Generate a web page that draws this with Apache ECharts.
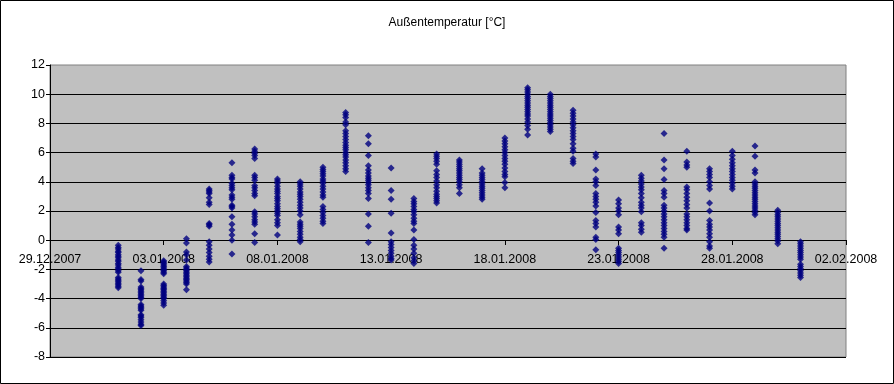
<!DOCTYPE html>
<html>
<head>
<meta charset="utf-8">
<script src="https://cdn.jsdelivr.net/npm/echarts@6/dist/echarts.min.js"></script>
<style>
html,body{margin:0;padding:0;background:#fff;}
#c{width:894px;height:384px;}
</style>
</head>
<body>
<div id="c"></div>
<script>
const titleText = 'Außentemperatur [°C]';
const xTickLabels = ['29.12.2007','03.01.2008','08.01.2008','13.01.2008','18.01.2008','23.01.2008','28.01.2008','02.02.2008'];
const yTicks = [-8,-6,-4,-2,0,2,4,6,8,10,12];
const days = ['01.01.2008','02.01.2008','03.01.2008','04.01.2008','05.01.2008','06.01.2008','07.01.2008','08.01.2008','09.01.2008','10.01.2008',
  '11.01.2008','12.01.2008','13.01.2008','14.01.2008','15.01.2008','16.01.2008','17.01.2008','18.01.2008','19.01.2008','20.01.2008',
  '21.01.2008','22.01.2008','23.01.2008','24.01.2008','25.01.2008','26.01.2008','27.01.2008','28.01.2008','29.01.2008','30.01.2008','31.01.2008'];
const temps = [
  [-0.35,-0.5,-0.6,-0.75,-0.85,-1.0,-1.1,-1.2,-1.35,-1.45,-1.6,-1.7,-1.85,-1.95,-2.1,-2.2,-2.55,-2.65,-2.75,-2.85,-2.95,-3.05,-3.15,-3.25],
  [-2.1,-2.7,-2.8,-3.2,-3.3,-3.4,-3.5,-3.6,-3.7,-3.8,-3.9,-4.0,-4.4,-4.5,-4.6,-4.7,-4.8,-5.1,-5.2,-5.3,-5.45,-5.6,-5.75,-5.85],
  [-1.4,-1.5,-1.6,-1.7,-1.8,-1.9,-2.0,-2.1,-2.2,-2.3,-3.0,-3.1,-3.2,-3.3,-3.4,-3.5,-3.6,-3.7,-3.8,-3.9,-4.0,-4.15,-4.3,-4.45],
  [0.1,-0.2,-0.8,-1.0,-1.35,-1.8,-1.9,-2.0,-2.1,-2.2,-2.3,-2.4,-2.5,-2.6,-2.7,-2.8,-2.9,-3.0,-3.4],
  [3.5,3.4,3.3,3.2,2.9,2.6,2.45,1.15,1.05,0.95,-0.1,-0.35,-0.6,-0.85,-1.1,-1.3,-1.5],
  [5.3,4.45,4.3,4.2,3.9,3.75,3.6,3.45,3.1,2.95,2.8,2.4,2.3,2.2,1.6,1.1,0.7,0.35,0.0,-0.95],
  [6.25,6.1,5.95,5.8,5.6,4.45,4.3,4.1,3.75,3.6,3.4,3.2,3.05,1.95,1.8,1.6,1.4,1.25,1.1,0.45,-0.15],
  [4.2,4.05,3.9,3.7,3.5,3.35,3.2,3.0,2.85,2.7,2.5,2.3,2.15,2.0,1.85,1.7,1.4,1.2,1.0,0.35],
  [4.0,3.85,3.7,3.5,3.3,3.15,3.0,2.8,2.6,2.4,2.2,2.0,1.75,1.25,1.1,0.95,0.8,0.6,0.4,0.2,0.05,-0.1],
  [5.0,4.85,4.7,4.55,4.4,4.2,4.05,3.9,3.7,3.5,3.3,3.1,2.95,2.3,2.1,1.9,1.7,1.5,1.3,1.15],
  [8.75,8.6,8.4,8.1,7.9,7.5,7.3,7.1,6.9,6.7,6.5,6.35,6.2,6.0,5.85,5.7,5.5,5.3,5.1,4.9,4.7],
  [7.15,6.6,5.8,5.1,4.8,4.6,4.4,4.25,4.1,3.95,3.8,3.6,3.4,3.2,2.85,1.8,0.95,-0.15],
  [4.95,3.4,2.8,1.85,0.5,-0.1,-0.3,-0.5,-0.7,-0.9,-1.1,-1.25,-1.35],
  [2.85,2.65,2.5,2.3,2.1,1.95,1.75,1.5,1.3,1.15,0.7,0.05,-0.35,-0.6,-0.9,-1.2,-1.4,-1.6],
  [5.9,5.75,5.6,5.4,5.2,4.75,4.5,4.3,4.05,3.8,3.6,3.35,3.15,3.0,2.85,2.7,2.55],
  [5.5,5.35,5.2,5.05,4.9,4.75,4.6,4.45,4.3,4.15,4.0,3.8,3.6,3.2],
  [4.9,4.6,4.45,4.3,4.15,4.0,3.85,3.7,3.55,3.4,3.25,3.1,2.95,2.8],
  [7.0,6.8,6.6,6.4,6.2,6.0,5.8,5.6,5.4,5.2,4.95,4.7,4.5,4.35,3.95,3.6],
  [10.45,10.3,10.15,10.0,9.85,9.7,9.55,9.4,9.25,9.1,8.95,8.8,8.65,8.5,8.3,8.1,7.85,7.6,7.2],
  [10.0,9.85,9.7,9.55,9.4,9.25,9.1,8.95,8.8,8.65,8.5,8.35,8.2,8.05,7.9,7.75,7.6,7.45],
  [8.9,8.7,8.5,8.3,8.1,7.9,7.7,7.5,7.3,7.1,6.9,6.6,6.3,6.1,5.6,5.4,5.25],
  [5.9,5.7,4.8,4.2,4.0,3.75,3.2,3.0,2.8,2.6,2.35,1.9,1.35,1.15,0.9,0.2,0.05,-0.65],
  [2.75,2.5,2.2,2.0,1.75,0.9,0.7,0.45,-0.55,-0.7,-0.85,-1.0,-1.15,-1.3,-1.45,-1.6],
  [4.45,4.25,4.05,3.85,3.65,3.45,3.2,2.9,2.6,2.4,2.2,1.95,1.2,1.0,0.75,0.55],
  [7.3,5.5,4.9,4.15,3.4,3.2,2.95,2.4,2.2,2.0,1.8,1.6,1.4,1.2,1.0,0.8,0.6,0.4,0.2,-0.55],
  [6.1,5.35,5.15,5.0,3.65,3.45,3.2,2.95,2.7,2.45,2.2,1.8,1.6,1.4,1.2,1.0,0.8,0.7],
  [4.9,4.7,4.5,4.3,4.0,3.75,3.5,2.55,2.0,1.35,1.1,0.9,0.7,0.45,0.2,-0.1,-0.4,-0.55],
  [6.1,5.8,5.55,5.3,5.1,4.9,4.7,4.5,4.3,4.1,3.9,3.7,3.5],
  [6.45,5.75,4.8,4.6,4.0,3.85,3.7,3.55,3.4,3.25,3.1,2.95,2.8,2.65,2.5,2.35,2.2,2.05,1.9,1.75],
  [2.05,1.9,1.75,1.6,1.45,1.3,1.15,1.0,0.85,0.7,0.55,0.4,0.25,0.1,-0.05,-0.25],
  [-0.1,-0.25,-0.4,-0.55,-0.7,-0.85,-1.0,-1.15,-1.3,-1.65,-1.8,-1.95,-2.1,-2.25,-2.4,-2.55]
];

function dayNum(s){ const p = s.split('.'); return Date.UTC(+p[2], +p[1]-1, +p[0]) / 86400000; }
const base = dayNum(xTickLabels[0]);
const points = [];
days.forEach((d, i) => { const x = dayNum(d) - base; temps[i].forEach(v => points.push([x, v])); });
const xMax = dayNum(xTickLabels[xTickLabels.length-1]) - base;

const gridTop = 65, gridHeight = 292;
const yMin = yTicks[0], yMax = yTicks[yTicks.length-1];
// distance from grid bottom to the y=0 line
const zeroOffset = Math.round(gridHeight * (0 - yMin) / (yMax - yMin));

const font = 'Liberation Sans, Arial, sans-serif';
const chart = echarts.init(document.getElementById('c'), null, {renderer:'canvas'});
chart.setOption({
  animation: false,
  backgroundColor: '#fff',
  title: { text: titleText, left: 'center', top: 12, textStyle: { fontFamily: font, fontSize: 12, fontWeight: 'normal', color: '#000' } },
  graphic: [{ type: 'rect', shape: { x: 0.5, y: 0.5, width: 893, height: 383 }, style: { fill: 'none', stroke: '#000', lineWidth: 1 }, z: 100 }],
  grid: { left: 50, top: gridTop, width: 796, height: gridHeight, show: true, backgroundColor: '#C0C0C0', borderColor: '#808080', borderWidth: 1 },
  xAxis: {
    type: 'value', min: 0, max: xMax, interval: 5, position: 'bottom', offset: -zeroOffset,
    axisLine: { show: true, onZero: false, lineStyle: { color: '#000', width: 1 } },
    axisTick: { show: true, inside: false, length: 5, lineStyle: { color: '#000' } },
    splitLine: { show: false },
    axisLabel: { show: true, margin: 13, showMinLabel: true, showMaxLabel: true, fontFamily: font, fontSize: 12.5, color: '#000',
      formatter: v => xTickLabels[Math.round(v / 5)] || '' }
  },
  yAxis: {
    type: 'value', min: yMin, max: yMax, interval: 2,
    axisLine: { show: true, onZero: false, lineStyle: { color: '#000', width: 1 } },
    axisTick: { show: true, inside: false, length: 4, lineStyle: { color: '#000' } },
    splitLine: { show: true, showMaxLine: false, lineStyle: { color: '#000', width: 1 } },
    axisLabel: { margin: 5, fontFamily: font, fontSize: 12.5, color: '#000' }
  },
  series: [{
    type: 'scatter', data: points, symbol: 'diamond', symbolSize: 7,
    itemStyle: { color: '#000080' }, z: 3
  }]
});
</script>
</body>
</html>
